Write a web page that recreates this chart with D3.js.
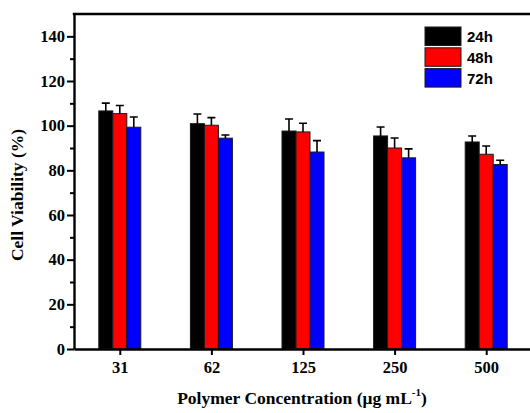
<!DOCTYPE html>
<html><head><meta charset="utf-8">
<script src="https://cdn.jsdelivr.net/npm/d3@7"></script>
<style>body{margin:0;background:#fff}svg{display:block}</style>
</head><body>
<svg id="c" width="530" height="413"></svg>
<script>
const categories = ["31", "62", "125", "250", "500"];
const seriesNames = ["24h", "48h", "72h"];
const seriesColors = ["#000000", "#ff0000", "#0000ff"];
const values24 = [106.6, 100.9, 97.6, 95.4, 92.7];
const values48 = [105.4, 100.2, 97.2, 90.0, 87.2];
const values72 = [99.3, 94.4, 88.2, 85.6, 82.6];
const err24 = [3.5, 4.3, 5.4, 4.0, 2.7];
const err48 = [3.6, 3.4, 3.9, 4.5, 3.7];
const err72 = [4.6, 1.4, 5.1, 4.0, 1.9];
const yTicks = [0, 20, 40, 60, 80, 100, 120, 140];

const series = [values24, values48, values72];
const errs = [err24, err48, err72];

const svg = d3.select("#c");
const L = 74, R = 532, T = 14, B = 349;
const x = d3.scalePoint().domain(categories).range([L, R]).padding(0.5);
const inner = d3.scaleBand().domain(seriesNames).range([-21, 21]).padding(0);
const y = d3.scaleLinear().domain([0, 150]).range([B, T]);

const serif = "'Liberation Serif','Times New Roman',serif";
const sans = "'Liberation Sans',Arial,sans-serif";

// bars
seriesNames.forEach((s, si) => {
  const g = svg.append("g");
  g.selectAll("rect").data(categories).join("rect")
    .attr("x", c => x(c) + inner(s))
    .attr("width", inner.bandwidth())
    .attr("y", (c, i) => y(series[si][i]))
    .attr("height", (c, i) => y(0) - y(series[si][i]))
    .attr("fill", seriesColors[si])
    .attr("stroke", "#1a1a1a").attr("stroke-width", 1);
  // error bars
  g.selectAll("path.e").data(categories).join("path")
    .attr("class", "e")
    .attr("d", (c, i) => {
      const cx = x(c) + inner(s) + inner.bandwidth() / 2;
      const y0 = y(series[si][i]), y1 = y(series[si][i] + errs[si][i]);
      return `M${cx},${y0}V${y1}M${cx - 4},${y1}H${cx + 4}`;
    })
    .attr("stroke", "#000").attr("stroke-width", 1.6).attr("fill", "none");
});

// y axis minor ticks
const minor = svg.append("g").attr("transform", `translate(${L},0)`)
  .call(d3.axisLeft(y).tickValues(d3.range(10, 150, 20)).tickSize(4).tickFormat(""));
minor.select(".domain").remove();
minor.selectAll("line").attr("stroke-width", 2);

// y axis major
const ya = svg.append("g").attr("transform", `translate(${L},0)`)
  .call(d3.axisLeft(y).tickValues(yTicks).tickSize(7).tickPadding(2).tickSizeOuter(0));
ya.select(".domain").attr("stroke-width", 2.4);
ya.selectAll("line").attr("stroke-width", 2);
ya.selectAll("text").attr("font-family", serif).attr("font-weight", "bold")
  .attr("font-size", 16.5).attr("fill", "#000");

// x axis
const xa = svg.append("g").attr("transform", `translate(0,${B})`)
  .call(d3.axisBottom(x).tickSize(6).tickPadding(6).tickSizeOuter(0));
xa.select(".domain").attr("stroke-width", 2.4);
xa.selectAll("line").attr("stroke-width", 2);
xa.selectAll("text").attr("font-family", serif).attr("font-weight", "bold")
  .attr("font-size", 16.5).attr("fill", "#000");

// top border
svg.append("line").attr("x1", L - 1.2).attr("x2", 530).attr("y1", y(150)).attr("y2", y(150))
  .attr("stroke", "#000").attr("stroke-width", 2.4);

// axis titles
svg.append("text").attr("transform", "translate(23,195) rotate(-90)")
  .attr("text-anchor", "middle").attr("font-family", serif).attr("font-weight", "bold")
  .attr("font-size", 17.5).text("Cell Viability (%)");

const xt = svg.append("text").attr("x", 302).attr("y", 404)
  .attr("text-anchor", "middle").attr("font-family", serif).attr("font-weight", "bold")
  .attr("font-size", 17.5);
xt.append("tspan").text("Polymer Concentration (μg mL");
xt.append("tspan").attr("font-size", 11).attr("dy", -8).text("-1");
xt.append("tspan").attr("dy", 8).text(")");

// legend
const lg = svg.append("g").attr("transform", "translate(425,27)");
seriesNames.forEach((s, i) => {
  lg.append("rect").attr("x", 0).attr("y", i * 20.8).attr("width", 36).attr("height", 18.5)
    .attr("fill", seriesColors[i]).attr("stroke", "#1a1a1a").attr("stroke-width", 1);
  lg.append("text").attr("x", 42).attr("y", i * 20.8 + 15)
    .attr("font-family", sans).attr("font-weight", "bold").attr("font-size", 15).text(s);
});
</script>
</body></html>
